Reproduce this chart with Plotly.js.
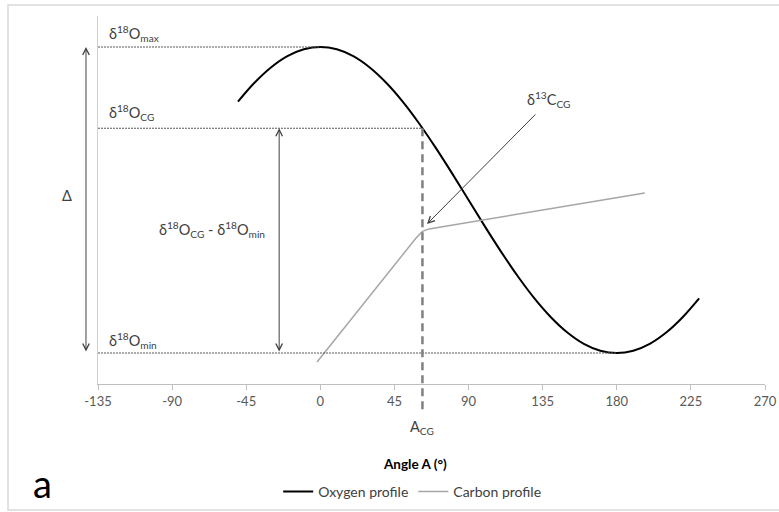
<!DOCTYPE html>
<html><head><meta charset="utf-8">
<script src="https://cdn.plot.ly/plotly-3.0.1.min.js"></script>
<style>html,body{margin:0;padding:0;background:#fff}#chart{width:779px;height:512px}</style>
</head><body><div id="chart"></div>
<script>
// Oxygen profile
const oxygenAngle = [-50,-40,-30,-20,-10,0,10,20,30,40,50,60,70,80,90,100,110,120,130,140,150,160,170,180,190,200,210,220,230];
const oxygenValue = [0.643,0.766,0.866,0.94,0.985,1,0.985,0.94,0.866,0.766,0.643,0.5,0.342,0.174,0,-0.174,-0.342,-0.5,-0.643,-0.766,-0.866,-0.94,-0.985,-1,-0.985,-0.94,-0.866,-0.766,-0.643];
// Carbon profile
const carbonAngle = [-2, 58, 62, 66, 197];
const carbonValue = [-1.059, -0.25, -0.205, -0.189, 0.046];
// Reference levels
const angleCG = 62;
const oxygenMax = 1, oxygenMin = -1, oxygenCG = 0.469;
const oxygenMaxAngle = 0, oxygenMinAngle = 180;
const xTicks = [-135,-90,-45,0,45,90,135,180,225,270];
const xRange = [-135, 270];
const yRange = [-1.2026, 1.2026];

const lblColor = '#404040';
const F = 'Lato, "Open Sans", sans-serif';

const traces = [
  {x: oxygenAngle, y: oxygenValue, type: 'scatter', mode: 'lines', name: 'Oxygen profile',
   line: {color: '#000000', width: 2, shape: 'spline'}},
  {x: carbonAngle, y: carbonValue, type: 'scatter', mode: 'lines', name: 'Carbon profile',
   line: {color: '#a6a6a6', width: 1.5}}
];

const yPaper = v => (v - yRange[0]) / (yRange[1] - yRange[0]);

const dotted = {color: '#595959', width: 1, dash: '2px,1px'};
const shapes = [
  {type: 'line', xref: 'x', yref: 'y', x0: xRange[0], x1: oxygenMaxAngle, y0: oxygenMax, y1: oxygenMax, line: dotted},
  {type: 'line', xref: 'x', yref: 'y', x0: xRange[0], x1: angleCG, y0: oxygenCG, y1: oxygenCG, line: dotted},
  {type: 'line', xref: 'x', yref: 'y', x0: xRange[0], x1: oxygenMinAngle, y0: oxygenMin, y1: oxygenMin, line: dotted},
  {type: 'line', xref: 'x', yref: 'paper', x0: angleCG, x1: angleCG, y0: yPaper(oxygenCG), y1: -0.0707,
   line: {color: '#808080', width: 2.5, dash: '8px,5px'}},
  {type: 'rect', xref: 'paper', yref: 'paper', x0: -0.1349, x1: 1.04, y0: -0.3424, y1: 1.0299,
   line: {color: '#d9d9d9', width: 1.5}}
];

const lf = {family: F, size: 14.5, color: lblColor};
const arrow = {showarrow: true, arrowhead: 5, arrowsize: 1.3, arrowwidth: 1, arrowcolor: '#404040', text: ''};
const annotations = [
  {text: 'δ<sup>18</sup>O<sub>max</sub>', xref: 'x', yref: 'y', x: -129.5, y: 1.085, xanchor: 'left', yanchor: 'middle', showarrow: false, font: lf},
  {text: 'δ<sup>18</sup>O<sub>CG</sub>', xref: 'x', yref: 'y', x: -129.5, y: 0.575, xanchor: 'left', yanchor: 'middle', showarrow: false, font: lf},
  {text: 'δ<sup>18</sup>O<sub>min</sub>', xref: 'x', yref: 'y', x: -129.5, y: -0.915, xanchor: 'left', yanchor: 'middle', showarrow: false, font: lf},
  {text: 'Δ', xref: 'paper', yref: 'y', x: -0.0465, y: 0.03, xanchor: 'center', yanchor: 'middle', showarrow: false, font: lf},
  {text: 'δ<sup>18</sup>O<sub>CG</sub> - δ<sup>18</sup>O<sub>min</sub>', xref: 'x', yref: 'y', x: -65.8, y: -0.196, xanchor: 'center', yanchor: 'middle', showarrow: false, font: lf},
  {text: 'δ<sup>13</sup>C<sub>CG</sub>', xref: 'x', yref: 'y', x: 138.8, y: 0.654, xanchor: 'center', yanchor: 'middle', showarrow: false, font: lf},
  {text: 'A<sub>CG</sub>', xref: 'x', yref: 'paper', x: angleCG, y: -0.118, xanchor: 'center', yanchor: 'middle', showarrow: false, font: lf},
  {text: '<b>Angle A (°)</b>', xref: 'paper', yref: 'paper', x: 0.475, y: -0.2174, xanchor: 'center', yanchor: 'middle', showarrow: false,
   font: {family: F, size: 13.5, color: '#000000'}},
  {text: 'a', xref: 'paper', yref: 'paper', x: -0.0825, y: -0.269, xanchor: 'center', yanchor: 'middle', showarrow: false,
   font: {family: F, size: 38, color: '#000000'}},
  // Δ double arrow
  Object.assign({}, arrow, {xref: 'paper', yref: 'y', x: -0.018, y: oxygenMax, axref: 'pixel', ax: 0, ayref: 'y', ay: oxygenMin, arrowside: 'end+start'}),
  // δ18O_CG - δ18O_min double arrow
  Object.assign({}, arrow, {xref: 'x', yref: 'y', x: -25, y: oxygenCG, axref: 'x', ax: -25, ayref: 'y', ay: oxygenMin, arrowside: 'end+start'}),
  // δ13C_CG arrow
  Object.assign({}, arrow, {xref: 'x', yref: 'y', x: 64.8, y: -0.157, axref: 'x', ax: 131.5, ayref: 'y', ay: 0.569})
];

const layout = {
  width: 779, height: 512,
  margin: {l: 98, r: 14, t: 16, b: 128, pad: 0, autoexpand: false},
  paper_bgcolor: '#ffffff', plot_bgcolor: '#ffffff',
  font: {family: F, size: 13, color: lblColor},
  showlegend: true,
  legend: {orientation: 'h', x: 0.471, xanchor: 'center', y: -0.2935, yanchor: 'middle',
           font: {family: F, size: 14, color: lblColor}, itemwidth: 30, bgcolor: 'rgba(0,0,0,0)'},
  xaxis: {range: xRange, tickmode: 'array', tickvals: xTicks, ticktext: xTicks.map(String),
          showgrid: false, zeroline: false, showline: true, linecolor: '#bfbfbf', linewidth: 1,
          ticks: 'outside', ticklen: 5, tickcolor: '#bfbfbf', tickfont: {family: F, size: 13, color: '#595959'},
          automargin: false, fixedrange: true},
  yaxis: {range: yRange, showgrid: false, zeroline: false, showline: true, linecolor: '#d0d0d0', linewidth: 1,
          showticklabels: false, ticks: '', automargin: false, fixedrange: true},
  shapes: shapes,
  annotations: annotations
};

Plotly.newPlot('chart', traces, layout, {displayModeBar: false, staticPlot: true});
</script>
</body></html>
